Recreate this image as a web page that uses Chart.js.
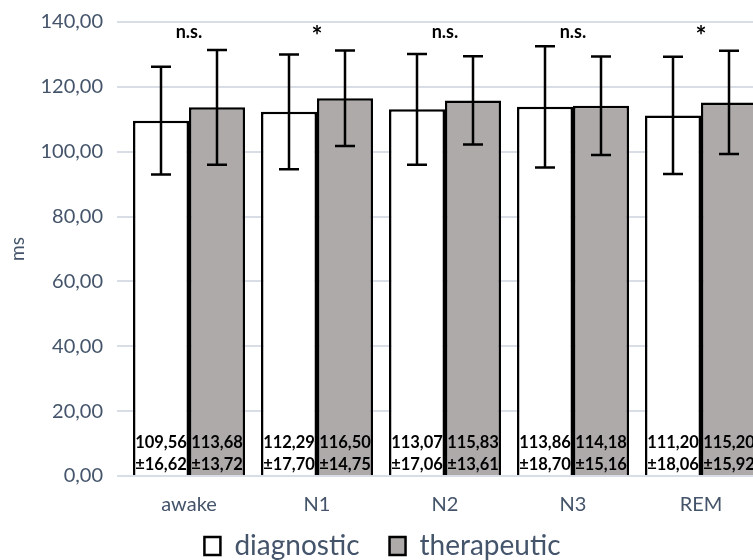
<!DOCTYPE html>
<html>
<head>
<meta charset="utf-8">
<script src="https://cdn.jsdelivr.net/npm/chart.js@4"></script>
<style>
  html, body { margin: 0; padding: 0; background: #fff; overflow: hidden; }
  #wrap { width: 753px; height: 560px; overflow: hidden; }
  #box { width: 770px; height: 560px; }
</style>
</head>
<body>
<div id="wrap"><div id="box"><canvas id="myChart"></canvas></div></div>
<script>
const stages = ['awake', 'N1', 'N2', 'N3', 'REM'];
const diagMeans = [109.56, 112.29, 113.07, 113.86, 111.20];
const diagSD = [16.62, 17.70, 17.06, 18.70, 18.06];
const theraMeans = [113.68, 116.50, 115.83, 114.18, 115.20];
const theraSD = [13.72, 14.75, 13.61, 15.16, 15.92];
// error bar half-lengths as drawn in the picture (awake therapeutic bar is drawn wider than its label)
const diagErr = [16.62, 17.70, 17.06, 18.70, 18.06];
const theraErr = [17.70, 14.75, 13.61, 15.16, 15.92];
const signif = ['n.s.', '*', 'n.s.', 'n.s.', '*'];
const yTicks = [0, 20, 40, 60, 80, 100, 120, 140];

const sdLabels = [diagSD, theraSD];
const errs = [diagErr, theraErr];
const fmt = v => v.toFixed(2).replace('.', ',');

// error bars, value labels and significance marks
const extras = {
  id: 'extras',
  afterDatasetsDraw(chart) {
    const ctx = chart.ctx;
    const y = chart.scales.y;
    const x = chart.scales.x;
    ctx.save();
    chart.data.datasets.forEach((ds, di) => {
      const meta = chart.getDatasetMeta(di);
      meta.data.forEach((bar, i) => {
        const m = ds.data[i], e = errs[di][i];
        const top = y.getPixelForValue(m + e);
        const bot = y.getPixelForValue(m - e);
        ctx.strokeStyle = '#000';
        ctx.lineWidth = 2.5;
        ctx.beginPath();
        ctx.moveTo(bar.x, top); ctx.lineTo(bar.x, bot);
        ctx.moveTo(bar.x - 10, top); ctx.lineTo(bar.x + 10, top);
        ctx.moveTo(bar.x - 10, bot); ctx.lineTo(bar.x + 10, bot);
        ctx.stroke();
        // labels at the bottom of the bar
        const base = y.getPixelForValue(0);
        ctx.fillStyle = '#000';
        ctx.font = 'bold 16.5px Lato';
        ctx.textAlign = 'center';
        ctx.textBaseline = 'middle';
        ctx.fillText(fmt(m), bar.x, base - 33);
        ctx.fillText('\u00b1' + fmt(sdLabels[di][i]), bar.x, base - 11);
      });
    });
    signif.forEach((s, i) => {
      const cx = x.getPixelForValue(i);
      ctx.fillStyle = '#000';
      ctx.textAlign = 'center';
      ctx.textBaseline = 'middle';
      if (s === '*') {
        ctx.font = 'bold 26px Lato';
        ctx.fillText(s, cx, y.top + 15);
      } else {
        ctx.font = 'bold 18px Lato';
        ctx.fillText(s, cx, y.top + 10);
      }
    });
    ctx.restore();
  }
};

const data = {
  labels: stages,
  datasets: [{
    label: 'diagnostic',
    backgroundColor: '#ffffff',
    borderColor: '#000000',
    borderWidth: 2.5,
    data: diagMeans,
  }, {
    label: 'therapeutic',
    backgroundColor: '#AEAAAA',
    borderColor: '#000000',
    borderWidth: 2.5,
    data: theraMeans,
  }]
};

const config = {
  type: 'bar',
  data,
  options: {
    responsive: true,
    maintainAspectRatio: false,
    animation: false,
    layout: { padding: { top: 22, right: 5, left: 0, bottom: -10 } },
    datasets: {
      bar: { categoryPercentage: 0.875, barPercentage: 1.0, borderSkipped: 'start' }
    },
    scales: {
      x: {
        grid: { display: false },
        border: { display: false },
        // mirror only so the labels are not clipped to the short axis box
        ticks: { color: '#44546A', font: { family: 'Lato', size: 20 }, mirror: true, padding: -41 },
        afterFit: s => { s.height = 26; }
      },
      y: {
        min: 0,
        max: 140,
        afterBuildTicks: s => { s.ticks = yTicks.map(v => ({ value: v })); },
        grid: { color: '#D9DEE6', lineWidth: 2 },
        border: { display: false },
        ticks: {
          color: '#44546A',
          font: { family: 'Lato', size: 20 },
          padding: 14,
          callback: v => fmt(v)
        },
        title: { display: true, text: 'ms', color: '#44546A', font: { family: 'Lato', size: 19 }, padding: { top: 6 } },
        afterFit: s => { s.width = 125; s.paddingTop = 0; s.paddingBottom = 0; }
      }
    },
    plugins: {
      legend: {
        position: 'bottom',
        labels: {
          color: '#44546A',
          font: { family: 'Lato', size: 28 },
          boxWidth: 16,
          boxHeight: 18,
          padding: 30
        }
      },
      tooltip: { enabled: false }
    }
  },
  plugins: [extras]
};

var myChart = new Chart(document.getElementById('myChart'), config);
</script>
</body>
</html>
